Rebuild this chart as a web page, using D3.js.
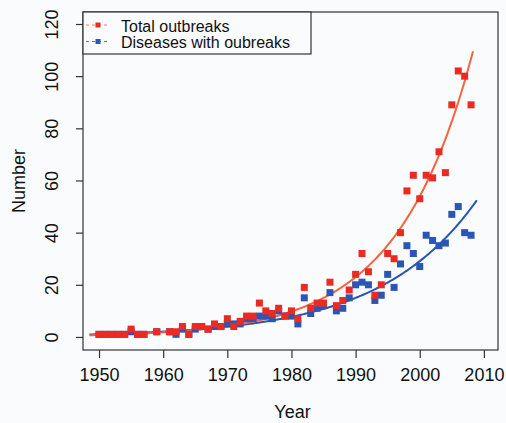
<!DOCTYPE html>
<html><head><meta charset="utf-8">
<script src="https://cdn.jsdelivr.net/npm/d3@7"></script>
<style>
html,body{margin:0;padding:0;background:#fafbfd;}
svg{display:block;font-family:"Liberation Sans",Arial,Helvetica,sans-serif;}
</style></head>
<body>
<svg id="chart" width="506" height="423"></svg>
<script>
const years = [1950,1951,1952,1953,1954,1955,1956,1957,1959,1961,1962,1963,1964,1965,1966,1967,1968,1969,1970,1971,1972,1973,1974,1975,1976,1977,1978,1979,1980,1981,1982,1983,1984,1985,1986,1987,1988,1989,1990,1991,1992,1993,1994,1995,1996,1997,1998,1999,2000,2001,2002,2003,2004,2005,2006,2007,2008];
const totalOutbreaks = [1,1,1,1,1,3,1,1,2,2,2,4,1,4,4,3,5,4,7,4,6,8,8,13,10,9,11,8,10,7,19,11,13,13,21,12,14,18,24,32,25,16,20,32,30,40,56,62,53,62,61,71,63,89,102,100,89];
const diseasesWithOutbreaks = [1,1,1,1,1,2,1,1,2,2,1,3,1,3,4,3,4,4,5,5,5,7,7,8,8,7,10,8,8,5,15,9,11,12,17,10,11,15,20,21,20,14,16,24,19,28,35,32,27,39,37,35,36,47,50,40,39];
// exponential fits: value = a * exp(b * (year - 1950))
const fitTotal = {a: 0.754, b: 0.0854, from: 1948.5, to: 2008.3};
const fitDiseases = {a: 1.056, b: 0.0663, from: 1948.5, to: 2008.9};
const xTicks = [1950,1960,1970,1980,1990,2000,2010];
const yTicks = [0,20,40,60,80,100,120];
const seriesNames = ["Total outbreaks","Diseases with oubreaks"];

const red = "#ec2a22", redLine = "#f4643f", blue = "#2c55b5", blueLine = "#2756b2";
const svg = d3.select("#chart");
const L = 83, R = 498, T = 12, B = 350;
const x = d3.scaleLinear().domain([1947.5, 2012.2]).range([L, R]);
const y = d3.scaleLinear().domain([-5, 124.6]).range([B, T]);

// axes
const xAxis = svg.append("g").attr("transform", `translate(0,${B})`)
  .call(d3.axisBottom(x).tickValues(xTicks).tickFormat(d3.format("d")).tickSize(8).tickPadding(10));
xAxis.select(".domain").remove();
xAxis.selectAll("line").attr("stroke", "#333").attr("stroke-width", 1.2);
xAxis.selectAll("text").attr("font-size", 18).attr("fill", "#111").attr("font-family", "Liberation Sans, Arial, sans-serif");

const yAxis = svg.append("g").attr("transform", `translate(${L},0)`)
  .call(d3.axisLeft(y).tickValues(yTicks).tickSize(7).tickPadding(0));
yAxis.select(".domain").remove();
yAxis.selectAll("line").attr("stroke", "#333").attr("stroke-width", 1.2);
yAxis.selectAll("text").remove();
yAxis.selectAll(".tick").append("text")
  .attr("transform", "translate(-25,0) rotate(-90)")
  .attr("text-anchor", "middle").attr("dy", 0)
  .attr("font-size", 18).attr("fill", "#111")
  .attr("font-family", "Liberation Sans, Arial, sans-serif")
  .text(d => d);

// box
svg.append("rect").attr("x", L).attr("y", T).attr("width", R - L).attr("height", B - T)
  .attr("fill", "none").attr("stroke", "#333").attr("stroke-width", 1.2);

// axis titles
svg.append("text").attr("x", (L + R) / 2 + 2).attr("y", 418).attr("text-anchor", "middle")
  .attr("font-size", 18).attr("fill", "#111").text("Year");
svg.append("text").attr("transform", `translate(25,${(T + B) / 2}) rotate(-90)`)
  .attr("text-anchor", "middle").attr("font-size", 18).attr("fill", "#111").text("Number");

// fitted curves
function curve(fit) {
  const pts = d3.range(fit.from, fit.to + 0.001, 0.25).map(t => [t, fit.a * Math.exp(fit.b * (t - 1950))]);
  if (pts[pts.length - 1][0] < fit.to) pts.push([fit.to, fit.a * Math.exp(fit.b * (fit.to - 1950))]);
  return pts;
}
const line = d3.line().x(d => x(d[0])).y(d => y(d[1]));
svg.append("path").attr("d", line(curve(fitDiseases))).attr("fill", "none").attr("stroke", blueLine).attr("stroke-width", 2);
svg.append("path").attr("d", line(curve(fitTotal))).attr("fill", "none").attr("stroke", redLine).attr("stroke-width", 2);

const s = 7;
svg.append("g").selectAll("rect").data(years).join("rect")
  .attr("x", (d) => x(d) - s / 2).attr("y", (d, i) => y(diseasesWithOutbreaks[i]) - s / 2)
  .attr("width", s).attr("height", s).attr("fill", blue);
svg.append("g").selectAll("rect").data(years).join("rect")
  .attr("x", (d) => x(d) - s / 2).attr("y", (d, i) => y(totalOutbreaks[i]) - s / 2)
  .attr("width", s).attr("height", s).attr("fill", red);

// legend
const lg = svg.append("g");
lg.append("rect").attr("x", L).attr("y", T).attr("width", 228).attr("height", 42)
  .attr("fill", "#fafbfd").attr("stroke", "#333").attr("stroke-width", 1.2);
const legendItems = [{name: seriesNames[0], c: red, lc: redLine, yy: 25}, {name: seriesNames[1], c: blue, lc: blueLine, yy: 41.5}];
legendItems.forEach(it => {
  lg.append("line").attr("x1", 86).attr("x2", 110).attr("y1", it.yy).attr("y2", it.yy)
    .attr("stroke", it.lc).attr("stroke-width", 1.2).attr("stroke-dasharray", "3,3").attr("opacity", 0.8);
  lg.append("rect").attr("x", 98 - 2.5).attr("y", it.yy - 2.5).attr("width", 5).attr("height", 5).attr("fill", it.c);
  lg.append("text").attr("x", 121).attr("y", it.yy + 6.5).attr("font-size", 16).attr("fill", "#111").text(it.name);
});
</script>
</body></html>
